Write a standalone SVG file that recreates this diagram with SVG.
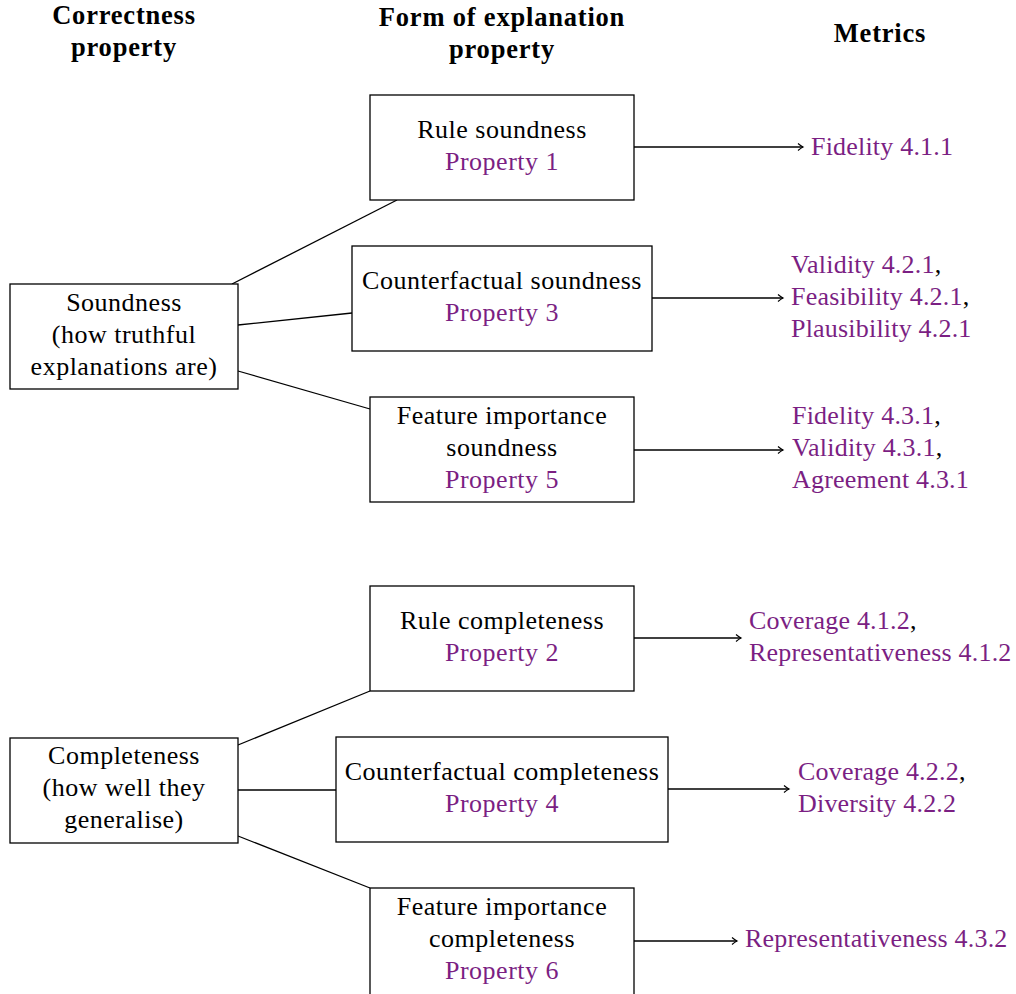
<svg xmlns="http://www.w3.org/2000/svg" width="1016" height="994" viewBox="0 0 1016 994">
<defs>
<style>
text{font-family:"Liberation Serif","Times New Roman",serif;font-size:26px;letter-spacing:0.5px;fill:#000}
.h{font-weight:bold;font-size:26.5px;letter-spacing:0.8px;text-anchor:middle}
.c{text-anchor:middle}
.m{letter-spacing:0.2px}
.p{fill:#7b1f83}
.box{fill:#fff;stroke:#000;stroke-width:1.3}
.ln{fill:none;stroke:#000;stroke-width:1.3}
</style>
<marker id="arr" markerWidth="10" markerHeight="10" refX="8" refY="5" orient="auto" markerUnits="userSpaceOnUse">
<path d="M3,1.5 Q6,4 8,5 Q6,6 3,8.5" fill="none" stroke="#000" stroke-width="1.2"/>
</marker>
</defs>
<rect width="1016" height="994" fill="#fff"/>
<g id="headers">
<text class="h" x="124" y="24">Correctness</text>
<text class="h" x="124" y="56">property</text>
<text class="h" x="502" y="26">Form of explanation</text>
<text class="h" x="502" y="58">property</text>
<text class="h" x="880" y="42">Metrics</text>
</g>
<g id="connectors">
<line class="ln" x1="232" y1="284" x2="397" y2="200"/>
<line class="ln" x1="238" y1="325" x2="352" y2="313"/>
<line class="ln" x1="238" y1="371" x2="370" y2="409"/>
<line class="ln" x1="238" y1="745" x2="370" y2="691"/>
<line class="ln" x1="238" y1="790" x2="336" y2="790"/>
<line class="ln" x1="238" y1="836" x2="370" y2="888"/>
<line class="ln" x1="634" y1="147" x2="803" y2="147" marker-end="url(#arr)"/>
<line class="ln" x1="652" y1="298" x2="783" y2="298" marker-end="url(#arr)"/>
<line class="ln" x1="634" y1="450" x2="783" y2="450" marker-end="url(#arr)"/>
<line class="ln" x1="634" y1="638" x2="741" y2="638" marker-end="url(#arr)"/>
<line class="ln" x1="668" y1="789" x2="789" y2="789" marker-end="url(#arr)"/>
<line class="ln" x1="634" y1="941" x2="737" y2="941" marker-end="url(#arr)"/>
</g>
<g id="soundness">
<rect class="box" x="10" y="284" width="228" height="105"/>
<text class="c" x="124" y="311">Soundness</text>
<text class="c" x="124" y="343">(how truthful</text>
<text class="c" x="124" y="375">explanations are)</text>
</g>
<g id="rule-soundness">
<rect class="box" x="370" y="95" width="264" height="105"/>
<text class="c" x="502" y="138">Rule soundness</text>
<text class="c p" x="502" y="170">Property 1</text>
</g>
<g id="cf-soundness">
<rect class="box" x="352" y="246" width="300" height="105"/>
<text class="c" x="502" y="289">Counterfactual soundness</text>
<text class="c p" x="502" y="321">Property 3</text>
</g>
<g id="fi-soundness">
<rect class="box" x="370" y="397" width="264" height="105"/>
<text class="c" x="502" y="424">Feature importance</text>
<text class="c" x="502" y="456">soundness</text>
<text class="c p" x="502" y="488">Property 5</text>
</g>
<g id="completeness">
<rect class="box" x="10" y="738" width="228" height="105"/>
<text class="c" x="124" y="764">Completeness</text>
<text class="c" x="124" y="796">(how well they</text>
<text class="c" x="124" y="828">generalise)</text>
</g>
<g id="rule-completeness">
<rect class="box" x="370" y="586" width="264" height="105"/>
<text class="c" x="502" y="629">Rule completeness</text>
<text class="c p" x="502" y="661">Property 2</text>
</g>
<g id="cf-completeness">
<rect class="box" x="336" y="737" width="332" height="105"/>
<text class="c" x="502" y="780">Counterfactual completeness</text>
<text class="c p" x="502" y="812">Property 4</text>
</g>
<g id="fi-completeness">
<rect class="box" x="370" y="888" width="264" height="120"/>
<text class="c" x="502" y="915">Feature importance</text>
<text class="c" x="502" y="947">completeness</text>
<text class="c p" x="502" y="979">Property 6</text>
</g>
<g id="metrics">
<text class="m" x="811" y="155"><tspan class="p">Fidelity 4.1.1</tspan></text>
<text class="m" x="791" y="273"><tspan class="p">Validity 4.2.1</tspan>,</text>
<text class="m" x="791" y="305"><tspan class="p">Feasibility 4.2.1</tspan>,</text>
<text class="m" x="791" y="337"><tspan class="p">Plausibility 4.2.1</tspan></text>
<text class="m" x="792" y="424"><tspan class="p">Fidelity 4.3.1</tspan>,</text>
<text class="m" x="792" y="456"><tspan class="p">Validity 4.3.1</tspan>,</text>
<text class="m" x="792" y="488"><tspan class="p">Agreement 4.3.1</tspan></text>
<text class="m" x="749" y="629"><tspan class="p">Coverage 4.1.2</tspan>,</text>
<text class="m" x="749" y="661"><tspan class="p">Representativeness 4.1.2</tspan></text>
<text class="m" x="798" y="780"><tspan class="p">Coverage 4.2.2</tspan>,</text>
<text class="m" x="798" y="812"><tspan class="p">Diversity 4.2.2</tspan></text>
<text class="m" x="745" y="947"><tspan class="p">Representativeness 4.3.2</tspan></text>
</g>
</svg>
